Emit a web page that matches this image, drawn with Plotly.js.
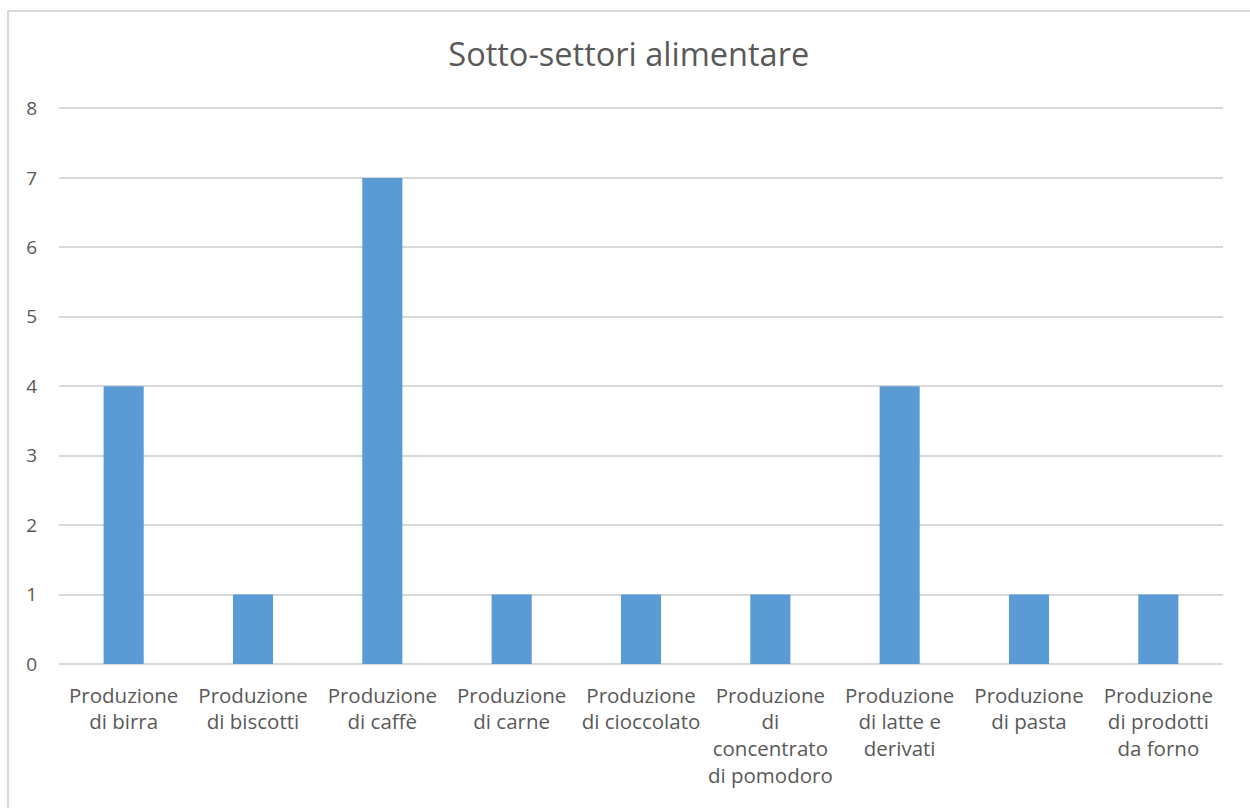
<!DOCTYPE html>
<html>
<head>
<meta charset="utf-8">
<script src="https://cdn.plot.ly/plotly-3.0.1.min.js"></script>
<style>
html,body{margin:0;padding:0;background:#fff;}
#chart{width:1250px;height:808px;}
#frame{position:absolute;left:7px;top:10px;width:1260px;height:820px;border:2px solid #d9d9d9;pointer-events:none;}
</style>
</head>
<body>
<div id="chart"></div>
<div id="frame"></div>
<script>
const categories = [
  "Produzione<br>di birra",
  "Produzione<br>di biscotti",
  "Produzione<br>di caffè",
  "Produzione<br>di carne",
  "Produzione<br>di cioccolato",
  "Produzione<br>di<br>concentrato<br>di pomodoro",
  "Produzione<br>di latte e<br>derivati",
  "Produzione<br>di pasta",
  "Produzione<br>di prodotti<br>da forno"
];
const values = [4, 1, 7, 1, 1, 1, 4, 1, 1];
const yTicks = [0, 1, 2, 3, 4, 5, 6, 7, 8];

const fontFam = "Open Sans, Noto Sans, sans-serif";
const txt = "#595959";
const grid = "#d9d9d9";

Plotly.newPlot("chart", [{
  type: "bar",
  x: categories,
  y: values,
  marker: {color: "#5b9bd5"},
  hoverinfo: "x+y"
}], {
  width: 1250,
  height: 808,
  margin: {l: 59, r: 27, t: 105, b: 144},
  paper_bgcolor: "#ffffff",
  plot_bgcolor: "#ffffff",
  bargap: 0.69,
  showlegend: false,
  title: {
    text: "Sotto-settori alimentare",
    font: {family: fontFam, size: 32.5, color: txt},
    x: 0.503, xanchor: "center",
    y: 0.933, yanchor: "middle"
  },
  xaxis: {
    type: "category",
    showgrid: false,
    showline: false,
    zeroline: false,
    ticks: "outside",
    ticklen: 13,
    tickcolor: "rgba(0,0,0,0)",
    tickangle: 0,
    tickfont: {family: fontFam, size: 20.5, color: txt}
  },
  yaxis: {
    range: [0, 8.05],
    tickvals: yTicks,
    showgrid: true,
    gridcolor: grid,
    gridwidth: 1.5,
    zeroline: true,
    zerolinecolor: grid,
    zerolinewidth: 1.5,
    showline: false,
    ticks: "",
    ticklabelstandoff: 21,
    tickfont: {family: fontFam, size: 19, color: txt}
  }
}, {displayModeBar: false});
</script>
</body>
</html>
